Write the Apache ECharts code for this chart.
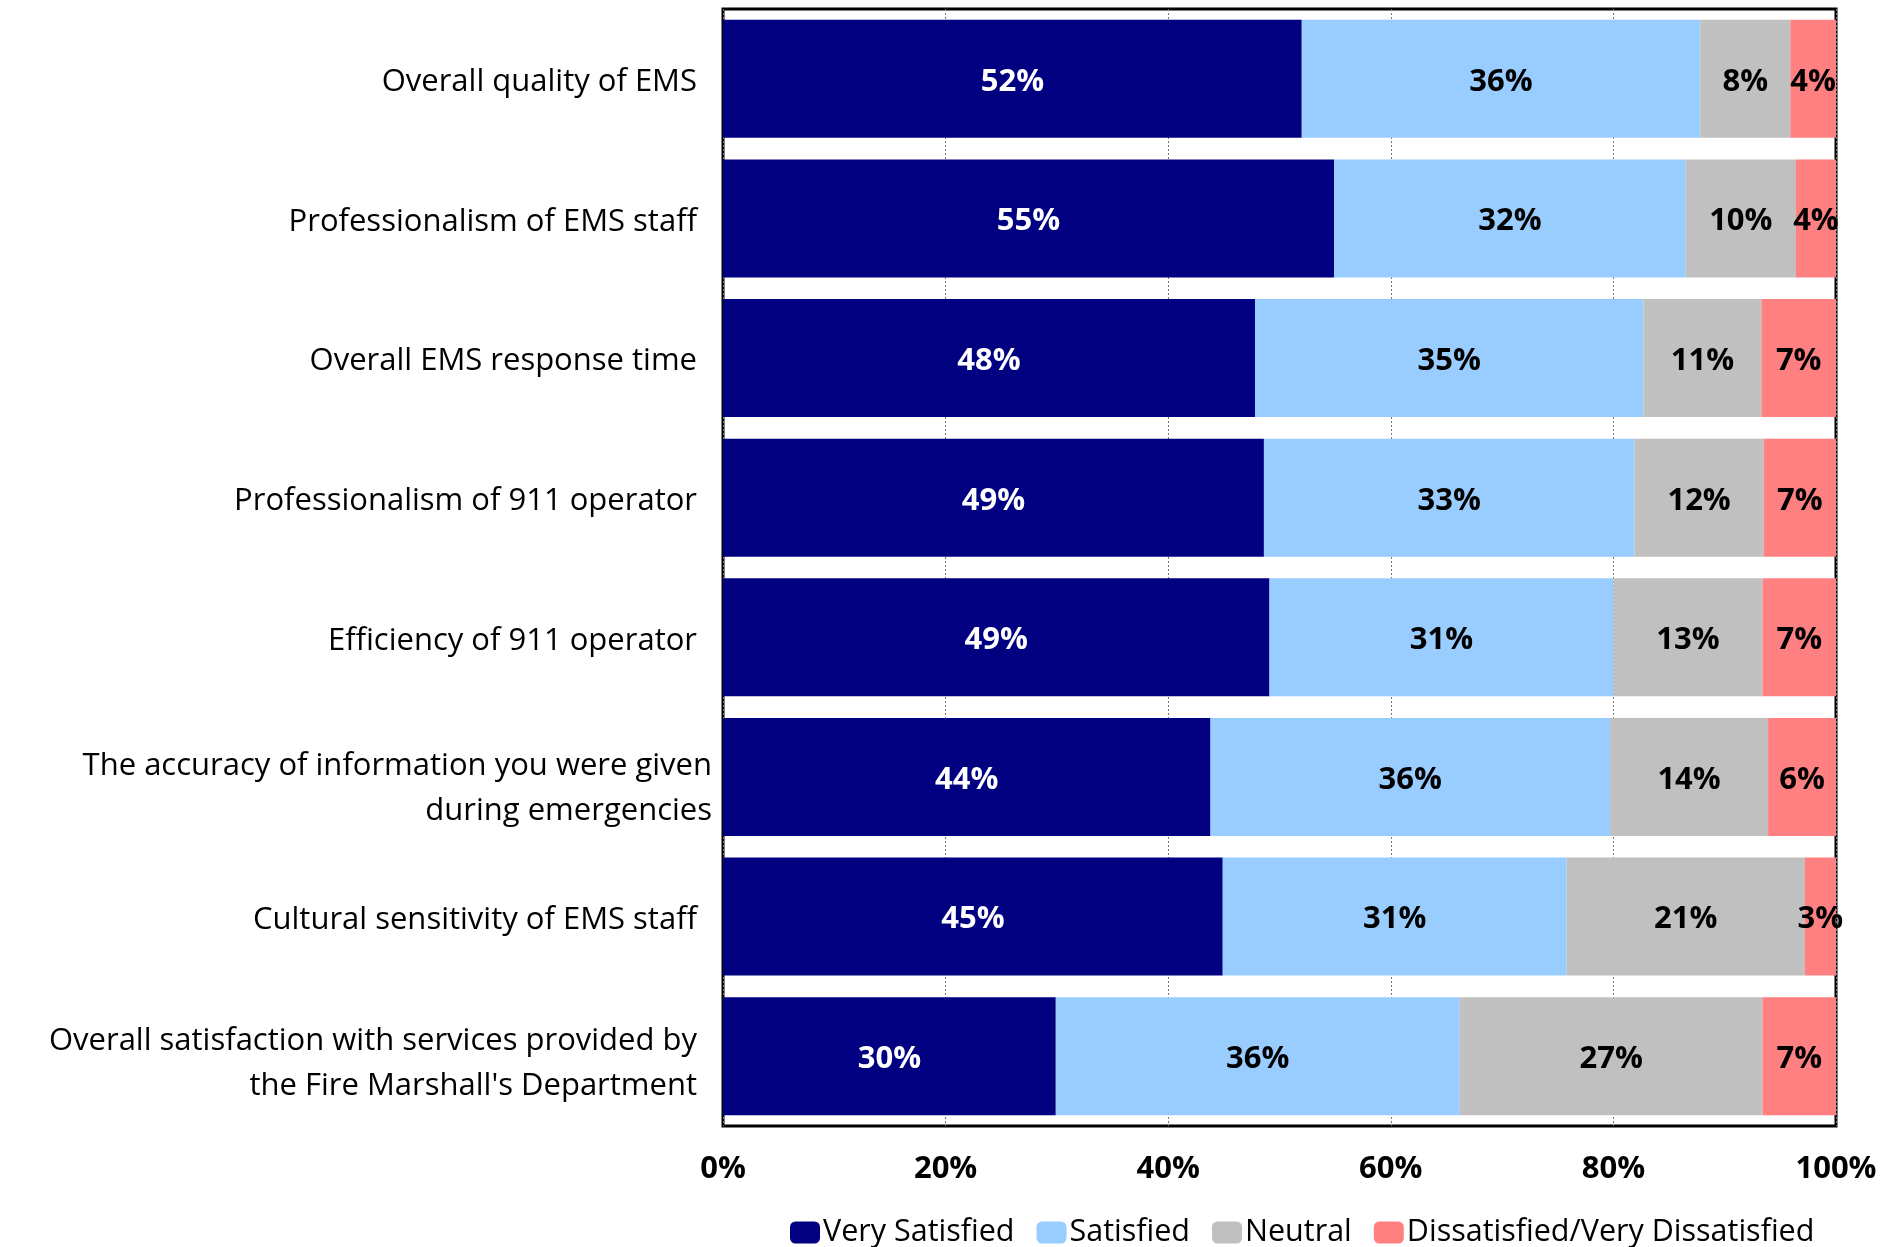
<!DOCTYPE html>
<html>
<head>
<meta charset="utf-8">
<script src="https://cdn.jsdelivr.net/npm/echarts@6/dist/echarts.min.js"></script>
<style>
  html, body { margin: 0; padding: 0; background: #fff; }
  #chart { width: 1902px; height: 1247px; }
</style>
</head>
<body>
<div id="chart"></div>
<script>
var categories = [
    'Overall quality of EMS',
    'Professionalism of EMS staff',
    'Overall EMS response time',
    'Professionalism of 911 operator',
    'Efficiency of 911 operator',
    'The accuracy of information you were given\nduring emergencies',
    'Cultural sensitivity of EMS staff',
    "Overall satisfaction with services provided by\nthe Fire Marshall's Department"
];
var seriesNames  = ['Very Satisfied', 'Satisfied', 'Neutral', 'Dissatisfied/Very Dissatisfied'];
var verySatisfied = [52.0, 54.9, 47.8, 48.6, 49.1, 43.8, 44.9, 29.9];
var satisfied     = [35.8, 31.6, 34.9, 33.3, 30.9, 35.9, 30.9, 36.3];
var neutral       = [8.1, 9.9, 10.6, 11.6, 13.4, 14.2, 21.4, 27.2];
var dissatisfied  = [4.1, 3.6, 6.7, 6.5, 6.6, 6.1, 2.8, 6.6];
var xTicks = [0, 20, 40, 60, 80, 100];

var colors = ['#000080', '#99CCFF', '#C0C0C0', '#FF8080'];
var labelColors = ['#ffffff', '#000000', '#000000', '#000000'];
var fontFam = '"Open Sans", Lato, sans-serif';

var chart = echarts.init(document.getElementById('chart'));

var allValues = [verySatisfied, satisfied, neutral, dissatisfied];
var series = [];
for (var i = 0; i < seriesNames.length; i++) {
    series.push({
        name    : seriesNames[i],
        type    : 'bar',
        stack   : 'total',
        barCategoryGap: '15.5%',
        data    : allValues[i],
        itemStyle: {color: colors[i]},
        label   : {
            show      : true,
            position  : 'inside',
            offset    : [0, 3],
            color     : labelColors[i],
            fontFamily: fontFam,
            fontWeight: 'bold',
            fontSize  : 31,
            formatter : function (p) { return Math.round(p.value) + '%'; }
        }
    });
}

// the accuracy label sits a little further right in the original
var yData = categories.map(function (c, idx) {
    if (idx === 5) return {value: c, textStyle: {padding: [0, -15, 0, 0]}};
    return c;
});

// a thin empty line on top pushes each label down a little, like the original
function catLabel(v, idx) {
    var gap = idx === 5 ? 'g24' : (idx === 7 ? 'g14' : 'g7');
    return '{' + gap + '| }\n' + v.split('\n').map(function (l) {
        return '{t|' + l + '}';
    }).join('\n');
}

chart.setOption({
    backgroundColor: '#ffffff',
    animation: false,
    color : colors,
    grid  : {
        left: 723, right: 66, top: 9, bottom: 121,
        show: true, borderColor: '#000', borderWidth: 3,
        backgroundColor: '#fff'
    },
    legend: {
        data     : seriesNames,
        left     : 785,
        top      : 1212,
        itemWidth: 30,
        itemHeight: 22,
        itemGap  : 22,
        textStyle: {fontFamily: fontFam, fontSize: 30.5, color: '#000', padding: [0, 0, 0, -2]}
    },
    xAxis : {
        type    : 'value',
        min     : xTicks[0],
        max     : xTicks[xTicks.length - 1],
        interval: 20,
        axisLine: {show: false},
        axisTick: {show: false},
        splitLine: {show: true, lineStyle: {color: '#777', width: 1, type: [2, 2]}},
        axisLabel: {
            margin    : 28,
            fontFamily: fontFam,
            fontWeight: 'bold',
            fontSize  : 31,
            color     : '#000',
            formatter : '{value}%'
        }
    },
    yAxis : {
        type    : 'category',
        inverse : true,
        data    : yData,
        axisLine: {show: false},
        axisTick: {show: false},
        axisLabel: {
            margin    : 26,
            align     : 'right',
            formatter : catLabel,
            rich      : {
                t  : {fontFamily: fontFam, fontSize: 31, lineHeight: 45, color: '#000'},
                g7 : {fontSize: 1, lineHeight: 7},
                g14: {fontSize: 1, lineHeight: 14},
                g24: {fontSize: 1, lineHeight: 24}
            }
        }
    },
    series: series
});
</script>
</body>
</html>
